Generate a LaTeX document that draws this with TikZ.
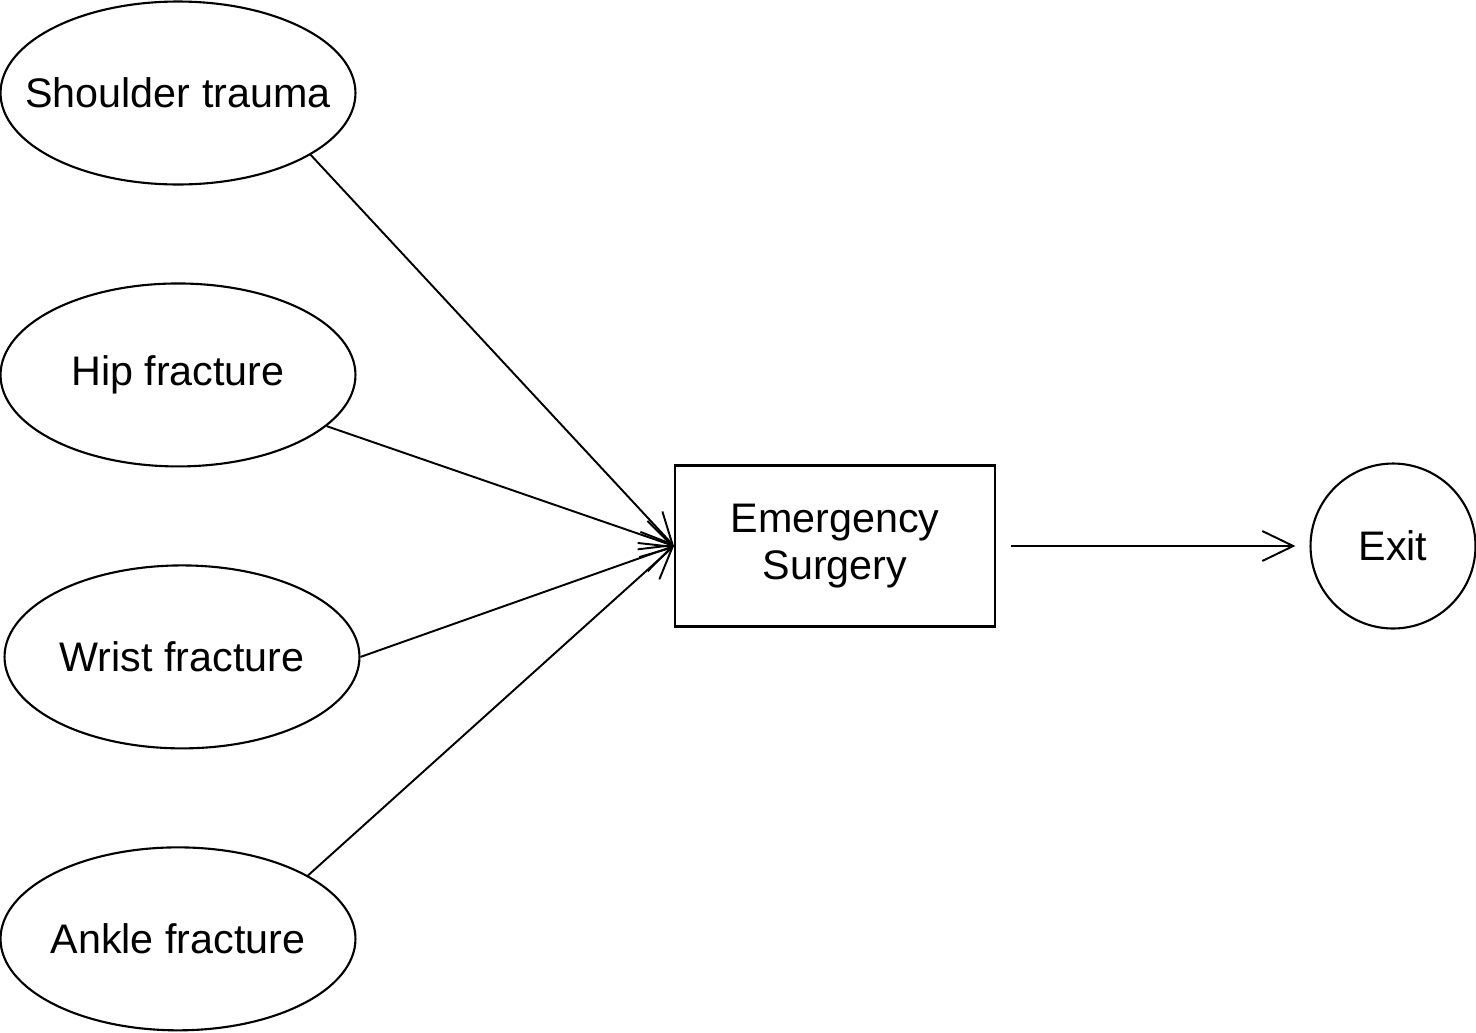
\documentclass[tikz,border=0pt]{standalone}
\usepackage{fontspec}
\setmainfont{Liberation Sans}
\usetikzlibrary{shapes.geometric,arrows.meta}

\begin{document}
\begin{tikzpicture}[x=0.02cm, y=-0.02cm, node distance=5.64cm,
	main/.style = {draw, ellipse, line width=1.2pt, minimum width=7.1cm, minimum height=3.66cm, inner xsep=-1cm, inner ysep=0pt, font=\fontsize{23.5}{27}\selectfont},
	box/.style = {draw, rectangle, line width=1.2pt, minimum width=6.4cm, minimum height=3.22cm, align=center, font=\fontsize{23.5}{27}\selectfont},
	end/.style = {draw, circle, line width=1.2pt, minimum size=3.3cm, inner sep=0pt, font=\fontsize{23.5}{27}\selectfont},
	arr/.style = {-{Straight Barb[length=0.62cm, width=0.6cm]}, line width=1.1pt}]
			\useasboundingbox (0,0) rectangle (1476,1032);
			\node[main] (shoulder) at (178,93) {Shoulder trauma};
			\node[main, below of=shoulder] (hip) {Hip fracture};
			\node[main, below of=hip, xshift=0.08cm] (wrist) {Wrist fracture};
			\node[main, below of=wrist, xshift=-0.08cm] (ankle) {Ankle fracture};
			
			\node[box] (surgery) at (835,546) {Emergency\\Surgery};
			\node[end] (exit) at (1393,546) {Exit};
			
			\draw[arr] (shoulder.-25) -- (surgery.west);
			\draw[arr] (hip.-19) -- (surgery.west);
			\draw[arr] (wrist.east) -- (surgery.west);
			\draw[arr] (ankle.26) -- (surgery.west);
			
			\draw[arr, shorten <=0.3cm, shorten >=0.28cm] (surgery.east) -- (exit.west);
			
\end{tikzpicture}
\end{document}
